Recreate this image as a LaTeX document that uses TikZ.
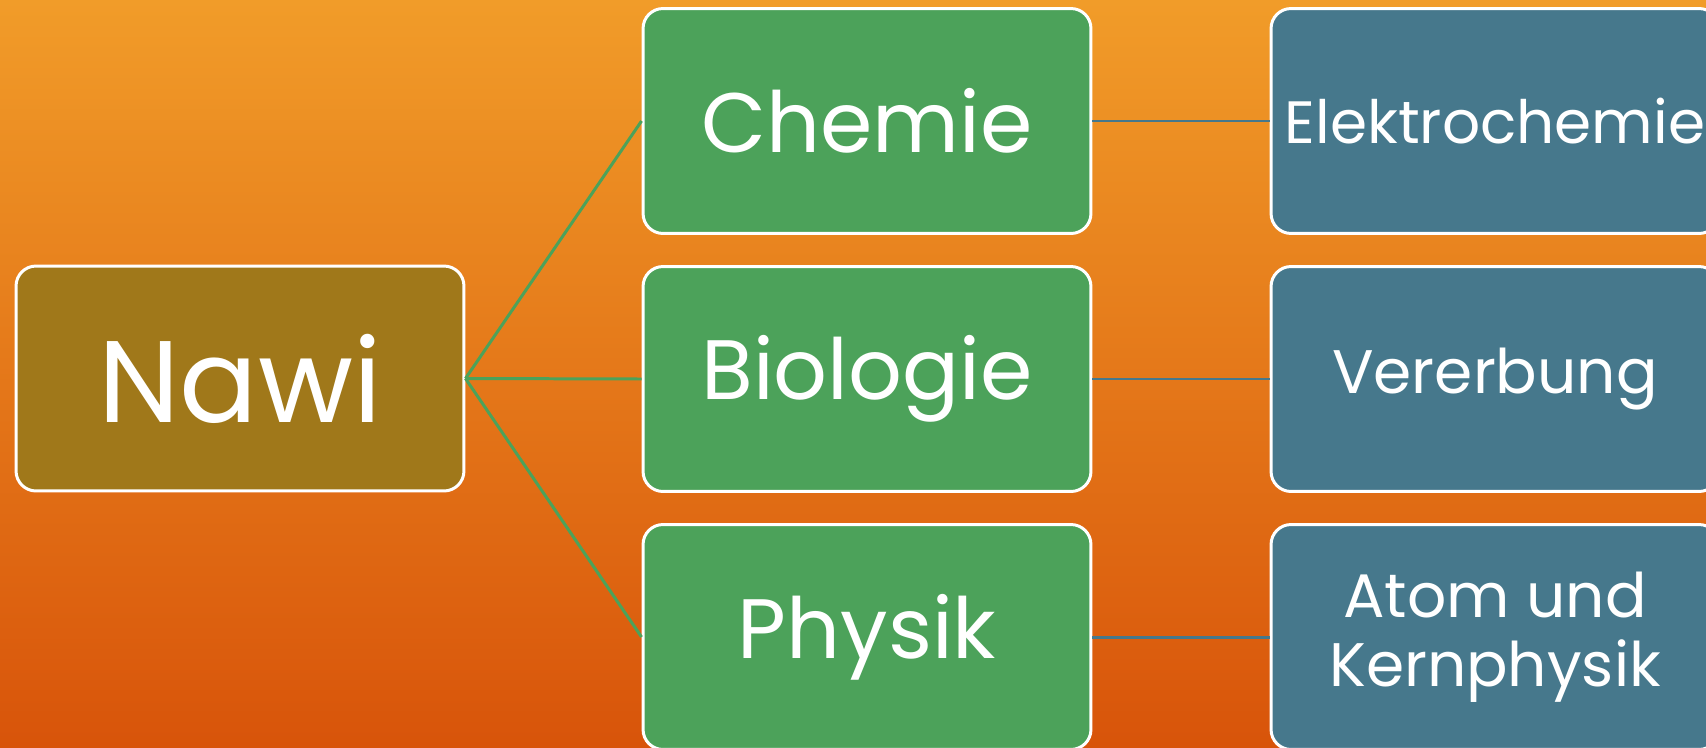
\documentclass[tikz,border=0pt]{standalone}
\usepackage{fontspec}
\setmainfont{Poppins}
\definecolor{bgtop}{RGB}{241,156,41}
\definecolor{bgbottom}{RGB}{216,84,10}
\definecolor{nawibrown}{RGB}{160,120,26}
\definecolor{fachgreen}{RGB}{76,162,90}
\definecolor{themablue}{RGB}{70,120,140}

\begin{document}
\begin{tikzpicture}[x=0.02cm, y=-0.02cm,
  box node/.style={rectangle, rounded corners=0.4cm, draw=white, line width=1.7pt, minimum width=8.96cm, minimum height=4.5cm, text=white, inner sep=0pt},
  root node/.style={box node, fill=nawibrown, font=\fontsize{66}{78}\selectfont},
  fach node/.style={box node, fill=fachgreen, font=\fontsize{48}{58}\selectfont},
  thema node/.style={box node, fill=themablue, align=center, font=\fontsize{35}{39}\selectfont},
  fach edge/.style={-, draw=fachgreen, line width=1.7pt},
  thema edge/.style={-, draw=themablue, line width=1.7pt}]
% background
\useasboundingbox (0,0) rectangle (1706,747);
\shade[top color=bgtop, bottom color=bgbottom] (0,0) rectangle (1706,747);

% root
\node[root node] (n0) at (240, 378.5) {Nawi};

% faecher
\node[fach node] (n1) at (867, 121) {Chemie};
\node[fach node] (n2) at (867, 379) {Biologie};
\node[fach node] (n3) at (867, 637) {Physik};

% themen
\node[thema node, font=\fontsize{34}{39}\selectfont] (n4) at (1495, 121) {Elektrochemie};
\node[thema node] (n5) at (1495, 379) {Vererbung};
\node[thema node] (n6) at (1495, 637) {Atom und\\Kernphysik};

\path[]
% root -> faecher
(n0.east) edge [fach edge] node [] {} (n1.west)
(n0.east) edge [fach edge] node [] {} (n2.west)
(n0.east) edge [fach edge] node [] {} (n3.west)

% faecher -> themen
(n1) edge [thema edge] node [] {} (n4)
(n2) edge [thema edge] node [] {} (n5)
(n3) edge [thema edge] node [] {} (n6)
;

\end{tikzpicture}
\end{document}
